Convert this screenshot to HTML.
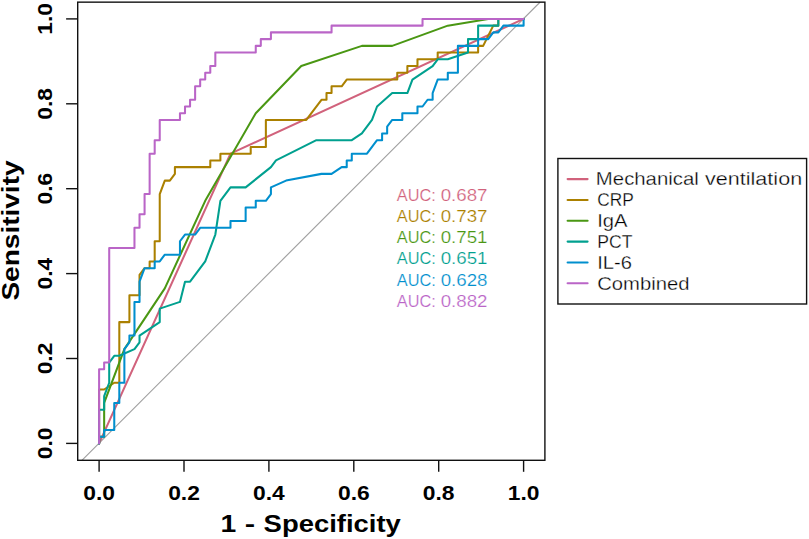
<!DOCTYPE html>
<html><head><meta charset="utf-8"><style>html,body{margin:0;padding:0;background:#fff;}svg{display:block;}</style></head><body><svg width="809" height="539" viewBox="0 0 809 539">
<rect x="0" y="0" width="809" height="539" fill="#ffffff"/>
<line x1="81.9" y1="460.3" x2="540.2" y2="2.0" stroke="#a0a0a0" stroke-width="1.15"/>
<path d="M99.10,443.40 L230.49,153.66 L523.60,18.90" fill="none" stroke="#D1627C" stroke-width="2.05" stroke-linejoin="round" stroke-linecap="round"/>
<path d="M99.10,443.40 L99.10,389.50 L104.15,389.50 L114.26,382.76 L119.31,382.76 L119.31,322.11 L129.42,322.11 L129.42,295.16 L139.53,295.16 L139.53,274.95 L144.58,268.21 L149.64,268.21 L149.64,261.47 L154.69,261.47 L154.69,241.26 L159.74,241.26 L159.74,194.09 L164.80,180.61 L169.85,180.61 L174.90,173.88 L174.90,167.14 L210.28,167.14 L210.28,160.40 L220.39,160.40 L220.39,153.66 L250.71,153.66 L250.71,146.92 L265.87,146.92 L265.87,119.97 L306.30,119.97 L321.46,99.76 L326.51,99.76 L326.51,93.02 L331.56,93.02 L331.56,86.28 L341.67,86.28 L346.73,79.54 L397.26,79.54 L397.26,72.80 L407.37,72.80 L407.37,66.07 L417.48,66.07 L417.48,59.33 L437.69,59.33 L437.69,52.59 L478.12,52.59 L478.12,45.85 L483.17,45.85 L493.28,25.64 L498.33,25.64 L498.33,18.90 L523.60,18.90" fill="none" stroke="#AB8000" stroke-width="2.05" stroke-linejoin="round" stroke-linecap="round"/>
<path d="M99.10,443.40 L99.10,436.66 L104.15,436.66 L104.15,402.97 L124.37,349.07 L164.80,288.42 L205.22,200.83 L255.76,113.23 L301.24,66.07 L361.89,45.85 L392.21,45.85 L447.80,25.64 L488.23,18.90 L523.60,18.90" fill="none" stroke="#4A9713" stroke-width="2.05" stroke-linejoin="round" stroke-linecap="round"/>
<path d="M99.10,443.40 L99.10,409.71 L104.15,409.71 L104.15,396.23 L109.21,382.76 L109.21,362.54 L114.26,355.80 L119.31,355.80 L134.47,349.07 L139.53,342.33 L139.53,335.59 L159.74,322.11 L159.74,308.64 L179.96,301.90 L185.01,281.69 L190.06,281.69 L205.22,261.47 L215.33,234.52 L220.39,200.83 L230.49,187.35 L245.65,187.35 L270.92,167.14 L275.98,160.40 L316.40,140.19 L351.78,140.19 L361.89,133.45 L371.99,119.97 L377.05,106.50 L392.21,93.02 L407.37,93.02 L412.42,79.54 L432.64,66.07 L437.69,59.33 L447.80,59.33 L468.01,52.59 L468.01,39.11 L478.12,39.11 L478.12,25.64 L498.33,25.64 L498.33,18.90 L523.60,18.90" fill="none" stroke="#00A08F" stroke-width="2.05" stroke-linejoin="round" stroke-linecap="round"/>
<path d="M99.10,443.40 L99.10,436.66 L104.15,436.66 L104.15,429.92 L114.26,429.92 L114.26,402.97 L119.31,402.97 L119.31,382.76 L124.37,382.76 L124.37,349.07 L129.42,342.33 L129.42,335.59 L134.47,335.59 L134.47,301.90 L139.53,301.90 L139.53,281.69 L144.58,268.21 L154.69,268.21 L154.69,261.47 L159.74,261.47 L164.80,254.73 L179.96,254.73 L179.96,241.26 L185.01,234.52 L195.12,234.52 L200.17,227.78 L230.49,227.78 L230.49,221.04 L245.65,221.04 L245.65,207.57 L255.76,207.57 L255.76,200.83 L265.87,200.83 L270.92,194.09 L270.92,187.35 L286.08,180.61 L321.46,173.88 L331.56,173.88 L341.67,167.14 L346.73,167.14 L346.73,160.40 L351.78,160.40 L351.78,153.66 L366.94,153.66 L377.05,140.19 L382.10,140.19 L382.10,133.45 L387.15,133.45 L387.15,126.71 L392.21,119.97 L402.31,119.97 L402.31,113.23 L417.48,113.23 L417.48,106.50 L422.53,106.50 L427.58,99.76 L432.64,99.76 L432.64,93.02 L437.69,79.54 L447.80,79.54 L447.80,72.80 L457.90,72.80 L457.90,45.85 L478.12,45.85 L478.12,39.11 L488.23,39.11 L493.28,32.38 L498.33,32.38 L503.39,25.64 L523.60,25.64 L523.60,18.90" fill="none" stroke="#008FCE" stroke-width="2.05" stroke-linejoin="round" stroke-linecap="round"/>
<path d="M99.10,443.40 L99.10,369.28 L104.15,369.28 L104.15,362.54 L109.21,362.54 L109.21,248.00 L134.47,248.00 L134.47,227.78 L139.53,227.78 L139.53,214.30 L144.58,214.30 L144.58,194.09 L149.64,194.09 L149.64,153.66 L154.69,153.66 L154.69,140.19 L159.74,140.19 L159.74,119.97 L179.96,119.97 L179.96,113.23 L185.01,113.23 L185.01,106.50 L190.06,106.50 L190.06,99.76 L195.12,99.76 L195.12,86.28 L200.17,86.28 L200.17,79.54 L205.22,79.54 L205.22,72.80 L210.28,72.80 L210.28,66.07 L215.33,66.07 L215.33,52.59 L255.76,52.59 L255.76,45.85 L260.81,45.85 L260.81,39.11 L270.92,39.11 L270.92,32.38 L331.56,32.38 L331.56,25.64 L422.53,25.64 L422.53,18.90 L523.60,18.90" fill="none" stroke="#BA65C7" stroke-width="2.05" stroke-linejoin="round" stroke-linecap="round"/>
<rect x="77.7" y="2.15" width="467.2" height="458.15" fill="none" stroke="#111" stroke-width="1.4"/>
<line x1="66.1" y1="443.40" x2="77.7" y2="443.40" stroke="#111" stroke-width="1.4"/>
<text transform="translate(51.9,443.40) rotate(-90) scale(1.17,1)" text-anchor="middle" font-family="Liberation Sans" font-weight="bold" font-size="19.5" fill="#000">0.0</text>
<line x1="66.1" y1="358.50" x2="77.7" y2="358.50" stroke="#111" stroke-width="1.4"/>
<text transform="translate(51.9,358.50) rotate(-90) scale(1.17,1)" text-anchor="middle" font-family="Liberation Sans" font-weight="bold" font-size="19.5" fill="#000">0.2</text>
<line x1="66.1" y1="273.60" x2="77.7" y2="273.60" stroke="#111" stroke-width="1.4"/>
<text transform="translate(51.9,273.60) rotate(-90) scale(1.17,1)" text-anchor="middle" font-family="Liberation Sans" font-weight="bold" font-size="19.5" fill="#000">0.4</text>
<line x1="66.1" y1="188.70" x2="77.7" y2="188.70" stroke="#111" stroke-width="1.4"/>
<text transform="translate(51.9,188.70) rotate(-90) scale(1.17,1)" text-anchor="middle" font-family="Liberation Sans" font-weight="bold" font-size="19.5" fill="#000">0.6</text>
<line x1="66.1" y1="103.80" x2="77.7" y2="103.80" stroke="#111" stroke-width="1.4"/>
<text transform="translate(51.9,103.80) rotate(-90) scale(1.17,1)" text-anchor="middle" font-family="Liberation Sans" font-weight="bold" font-size="19.5" fill="#000">0.8</text>
<line x1="66.1" y1="18.90" x2="77.7" y2="18.90" stroke="#111" stroke-width="1.4"/>
<text transform="translate(51.9,18.90) rotate(-90) scale(1.17,1)" text-anchor="middle" font-family="Liberation Sans" font-weight="bold" font-size="19.5" fill="#000">1.0</text>
<line x1="99.10" y1="460.3" x2="99.10" y2="471.8" stroke="#111" stroke-width="1.4"/>
<text transform="translate(99.10,500.0) scale(1.17,1)" text-anchor="middle" font-family="Liberation Sans" font-weight="bold" font-size="19.5" fill="#000">0.0</text>
<line x1="184.00" y1="460.3" x2="184.00" y2="471.8" stroke="#111" stroke-width="1.4"/>
<text transform="translate(184.00,500.0) scale(1.17,1)" text-anchor="middle" font-family="Liberation Sans" font-weight="bold" font-size="19.5" fill="#000">0.2</text>
<line x1="268.90" y1="460.3" x2="268.90" y2="471.8" stroke="#111" stroke-width="1.4"/>
<text transform="translate(268.90,500.0) scale(1.17,1)" text-anchor="middle" font-family="Liberation Sans" font-weight="bold" font-size="19.5" fill="#000">0.4</text>
<line x1="353.80" y1="460.3" x2="353.80" y2="471.8" stroke="#111" stroke-width="1.4"/>
<text transform="translate(353.80,500.0) scale(1.17,1)" text-anchor="middle" font-family="Liberation Sans" font-weight="bold" font-size="19.5" fill="#000">0.6</text>
<line x1="438.70" y1="460.3" x2="438.70" y2="471.8" stroke="#111" stroke-width="1.4"/>
<text transform="translate(438.70,500.0) scale(1.17,1)" text-anchor="middle" font-family="Liberation Sans" font-weight="bold" font-size="19.5" fill="#000">0.8</text>
<line x1="523.60" y1="460.3" x2="523.60" y2="471.8" stroke="#111" stroke-width="1.4"/>
<text transform="translate(523.60,500.0) scale(1.17,1)" text-anchor="middle" font-family="Liberation Sans" font-weight="bold" font-size="19.5" fill="#000">1.0</text>
<text transform="translate(220.4,532.1) scale(1.18,1)" font-family="Liberation Sans" font-weight="bold" font-size="24" fill="#000">1</text>
<text transform="translate(244.8,532.1) scale(1.3,1)" font-family="Liberation Sans" font-weight="bold" font-size="24" fill="#000">-</text>
<text transform="translate(263.6,532.1) scale(1.144,1)" font-family="Liberation Sans" font-weight="bold" font-size="24" fill="#000">Specificity</text>
<text transform="translate(18.9,230.5) rotate(-90) scale(1.168,1)" text-anchor="middle" font-family="Liberation Sans" font-weight="bold" font-size="24" fill="#000">Sensitivity</text>
<text transform="translate(396.8,200.80) scale(1.047,1)" font-family="Liberation Sans" font-size="15.6" fill="#D1627C" stroke="#fff" stroke-width="0.2">AUC:</text>
<text transform="translate(440.7,200.80) scale(1.20,1)" font-family="Liberation Sans" font-size="15.6" fill="#D1627C" stroke="#fff" stroke-width="0.2">0.687</text>
<text transform="translate(396.8,222.00) scale(1.047,1)" font-family="Liberation Sans" font-size="15.6" fill="#AB8000" stroke="#fff" stroke-width="0.2">AUC:</text>
<text transform="translate(440.7,222.00) scale(1.20,1)" font-family="Liberation Sans" font-size="15.6" fill="#AB8000" stroke="#fff" stroke-width="0.2">0.737</text>
<text transform="translate(396.8,243.20) scale(1.047,1)" font-family="Liberation Sans" font-size="15.6" fill="#4A9713" stroke="#fff" stroke-width="0.2">AUC:</text>
<text transform="translate(440.7,243.20) scale(1.20,1)" font-family="Liberation Sans" font-size="15.6" fill="#4A9713" stroke="#fff" stroke-width="0.2">0.751</text>
<text transform="translate(396.8,264.40) scale(1.047,1)" font-family="Liberation Sans" font-size="15.6" fill="#00A08F" stroke="#fff" stroke-width="0.2">AUC:</text>
<text transform="translate(440.7,264.40) scale(1.20,1)" font-family="Liberation Sans" font-size="15.6" fill="#00A08F" stroke="#fff" stroke-width="0.2">0.651</text>
<text transform="translate(396.8,285.60) scale(1.047,1)" font-family="Liberation Sans" font-size="15.6" fill="#008FCE" stroke="#fff" stroke-width="0.2">AUC:</text>
<text transform="translate(440.7,285.60) scale(1.20,1)" font-family="Liberation Sans" font-size="15.6" fill="#008FCE" stroke="#fff" stroke-width="0.2">0.628</text>
<text transform="translate(396.8,306.80) scale(1.047,1)" font-family="Liberation Sans" font-size="15.6" fill="#BA65C7" stroke="#fff" stroke-width="0.2">AUC:</text>
<text transform="translate(440.7,306.80) scale(1.20,1)" font-family="Liberation Sans" font-size="15.6" fill="#BA65C7" stroke="#fff" stroke-width="0.2">0.882</text>
<rect x="557.9" y="158.5" width="248.7" height="145.5" fill="none" stroke="#111" stroke-width="1.4"/>
<line x1="567.6" y1="179.10" x2="587.6" y2="179.10" stroke="#D1627C" stroke-width="2.05" stroke-linecap="round"/>
<text transform="translate(595.86,185.30) scale(1.119,1)" font-family="Liberation Sans" font-size="18.2" fill="#000" stroke="#fff" stroke-width="0.3">Mechanical</text>
<text transform="translate(705.0,185.30) scale(1.186,1)" font-family="Liberation Sans" font-size="18.2" fill="#000" stroke="#fff" stroke-width="0.3">ventilation</text>
<line x1="567.6" y1="199.94" x2="587.6" y2="199.94" stroke="#AB8000" stroke-width="2.05" stroke-linecap="round"/>
<text transform="translate(597.35,206.14) scale(0.95,1)" font-family="Liberation Sans" font-size="18.2" fill="#000" stroke="#fff" stroke-width="0.3">CRP</text>
<line x1="567.6" y1="220.78" x2="587.6" y2="220.78" stroke="#4A9713" stroke-width="2.05" stroke-linecap="round"/>
<text transform="translate(597.19,226.98) scale(1.109,1)" font-family="Liberation Sans" font-size="18.2" fill="#000" stroke="#fff" stroke-width="0.3">IgA</text>
<line x1="567.6" y1="241.62" x2="587.6" y2="241.62" stroke="#00A08F" stroke-width="2.05" stroke-linecap="round"/>
<text transform="translate(597.33,247.82) scale(0.965,1)" font-family="Liberation Sans" font-size="18.2" fill="#000" stroke="#fff" stroke-width="0.3">PCT</text>
<line x1="567.6" y1="262.46" x2="587.6" y2="262.46" stroke="#008FCE" stroke-width="2.05" stroke-linecap="round"/>
<text transform="translate(597.19,268.66) scale(1.109,1)" font-family="Liberation Sans" font-size="18.2" fill="#000" stroke="#fff" stroke-width="0.3">IL-6</text>
<line x1="567.6" y1="283.30" x2="587.6" y2="283.30" stroke="#BA65C7" stroke-width="2.05" stroke-linecap="round"/>
<text transform="translate(597.19,289.50) scale(1.112,1)" font-family="Liberation Sans" font-size="18.2" fill="#000" stroke="#fff" stroke-width="0.3">Combined</text>
</svg></body></html>
